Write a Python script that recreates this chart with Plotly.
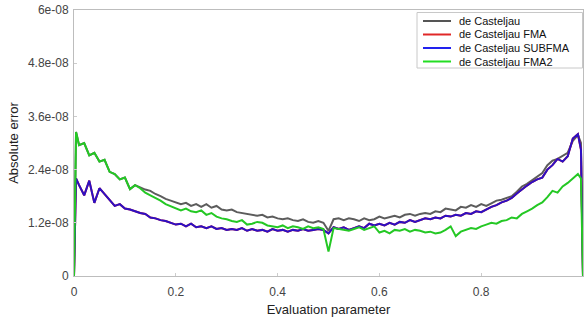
import plotly.graph_objects as go

# Evaluation parameter grid
t = [0.0, 0.004] + [round(0.01 * k, 2) for k in range(1, 100)] + [0.996, 1.0]

# Absolute errors in units of 1e-8
casteljau = [0.0, 3.25,
    2.95, 3.00, 2.72, 2.78, 2.58, 2.62, 2.35, 2.30, 2.18, 2.22,
    1.96, 2.05, 2.00, 1.95, 1.92, 1.85, 1.80, 1.74, 1.70, 1.66,
    1.62, 1.65, 1.58, 1.62, 1.56, 1.62, 1.54, 1.58, 1.50, 1.48,
    1.50, 1.44, 1.42, 1.40, 1.38, 1.36, 1.38, 1.32, 1.34, 1.30,
    1.28, 1.30, 1.26, 1.24, 1.28, 1.22, 1.20, 1.24, 1.20, 1.02,
    1.28, 1.30, 1.26, 1.30, 1.28, 1.24, 1.30, 1.26, 1.28, 1.34,
    1.30, 1.33, 1.36, 1.32, 1.38, 1.40, 1.36, 1.40, 1.42, 1.40,
    1.46, 1.44, 1.52, 1.50, 1.48, 1.56, 1.54, 1.60, 1.56, 1.62,
    1.58, 1.64, 1.70, 1.72, 1.76, 1.80, 1.90, 2.02, 2.08, 2.16,
    2.26, 2.32, 2.50, 2.60, 2.64, 2.72, 2.78, 3.05, 3.18,
    3.00, 0.0]

casteljau_subfma = [0.0, 2.20,
    2.05, 1.82, 2.15, 1.65, 1.98, 1.85, 1.72, 1.58, 1.62, 1.52,
    1.50, 1.46, 1.42, 1.40, 1.32, 1.30, 1.26, 1.24, 1.20, 1.16,
    1.18, 1.12, 1.18, 1.10, 1.12, 1.08, 1.12, 1.06, 1.08, 1.04,
    1.06, 1.04, 1.08, 1.02, 1.06, 1.02, 1.04, 1.00, 1.06, 1.02,
    1.04, 1.00, 1.04, 1.02, 1.06, 1.02, 1.04, 1.06, 1.04, 0.96,
    1.10, 1.06, 1.10, 1.04, 1.08, 1.12, 1.08, 1.18, 1.14, 1.18,
    1.14, 1.20, 1.16, 1.22, 1.20, 1.26, 1.22, 1.26, 1.30, 1.28,
    1.32, 1.30, 1.36, 1.34, 1.38, 1.36, 1.42, 1.40, 1.46, 1.44,
    1.50, 1.56, 1.60, 1.66, 1.70, 1.76, 1.86, 1.96, 2.04, 2.12,
    2.18, 2.22, 2.40, 2.50, 2.64, 2.58, 2.70, 3.10, 3.20,
    2.85, 0.0]

# FMA variant is hidden under the SUBFMA curve
casteljau_fma = list(casteljau_subfma)

casteljau_fma2 = [0.0, 3.25,
    2.95, 3.00, 2.72, 2.78, 2.58, 2.62, 2.35, 2.30, 2.18, 2.22,
    1.96, 2.05, 1.98, 1.88, 1.82, 1.76, 1.70, 1.62, 1.57, 1.52,
    1.48, 1.52, 1.46, 1.44, 1.48, 1.38, 1.42, 1.34, 1.30, 1.28,
    1.24, 1.22, 1.26, 1.16, 1.18, 1.22, 1.20, 1.14, 1.12, 1.10,
    1.14, 1.08, 1.12, 1.10, 1.06, 1.12, 1.08, 1.10, 1.06, 0.55,
    1.08, 1.06, 1.04, 1.02, 1.06, 1.10, 1.04, 1.08, 1.12, 0.98,
    1.02, 0.96, 1.04, 1.02, 1.06, 1.00, 1.04, 1.02, 0.98, 1.00,
    0.96, 0.98, 1.04, 1.12, 0.90, 1.00, 1.04, 1.08, 1.06, 1.12,
    1.16, 1.20, 1.18, 1.24, 1.26, 1.32, 1.30, 1.40, 1.46, 1.52,
    1.60, 1.66, 1.78, 1.92, 1.88, 2.02, 2.10, 2.20, 2.30,
    2.20, 0.0]

series_names = ["de Casteljau", "de Casteljau FMA", "de Casteljau SUBFMA", "de Casteljau FMA2"]
series_values = [casteljau, casteljau_fma, casteljau_subfma, casteljau_fma2]
series_colors = ["#5c5c5c", "#dd2020", "#2c10c4", "#24c824"]
legend_colors = ["#555555", "#e02828", "#2222ee", "#22dd22"]

y_tickvals = [0, 1.2e-8, 2.4e-8, 3.6e-8, 4.8e-8, 6e-8]
y_ticktext = ["0", "1.2e-08", "2.4e-08", "3.6e-08", "4.8e-08", "6e-08"]
x_tickvals = [0, 0.2, 0.4, 0.6, 0.8, 1]
x_ticktext = ["0", "0.2", "0.4", "0.6", "0.8", "1"]

FONT = "Liberation Sans, Arial, sans-serif"

fig = go.Figure()
for name, vals, col in zip(series_names, series_values, series_colors):
    fig.add_trace(go.Scatter(
        x=t, y=[v * 1e-8 for v in vals], mode="lines", name=name,
        line=dict(color=col, width=2), showlegend=False,
    ))

# Compact legend drawn with shapes/annotations (pixel -> paper conversion)
PL, PR, PT, PB = 74, 583, 10, 276
def px_x(px):
    return (px - PL) / (PR - PL)
def px_y(py):
    return (PB - py) / (PB - PT)

shapes = [dict(type="rect", xref="paper", yref="paper",
               x0=px_x(417), x1=px_x(582.5), y0=px_y(68), y1=px_y(12.5),
               line=dict(color="#c8c8c8", width=1), fillcolor="white", layer="above")]
annotations = []
row_y = [21, 34.5, 48, 61.5]
for name, col, ry in zip(series_names, legend_colors, row_y):
    shapes.append(dict(type="line", xref="paper", yref="paper",
                       x0=px_x(423), x1=px_x(451), y0=px_y(ry), y1=px_y(ry),
                       line=dict(color=col, width=2), layer="above"))
    annotations.append(dict(xref="paper", yref="paper", x=px_x(457), y=px_y(ry),
                            xanchor="left", yanchor="middle", showarrow=False,
                            text=name, font=dict(family=FONT, size=11, color="#111111")))

axis_common = dict(
    showgrid=False, zeroline=False, showline=True, linecolor="#bdbdbd",
    linewidth=1, mirror=True, ticks="inside", ticklen=3, tickcolor="#cccccc",
    automargin=False,
    tickfont=dict(family=FONT, size=12, color="#444444"),
)

fig.update_layout(
    width=584, height=320,
    margin=dict(l=74, r=1, t=10, b=44),
    paper_bgcolor="white", plot_bgcolor="white",
    font=dict(family=FONT, size=12, color="#222222"),
    showlegend=False,
    shapes=shapes, annotations=annotations,
    xaxis=dict(range=[0, 1], tickvals=x_tickvals, ticktext=x_ticktext,
               ticklabelstandoff=5,
               title=dict(text="Evaluation parameter", standoff=6,
                          font=dict(size=13, color="#222222")),
               **axis_common),
    yaxis=dict(range=[0, 6e-8], tickvals=y_tickvals, ticktext=y_ticktext,
               ticklabelstandoff=2,
               title=dict(text="Absolute error", standoff=6,
                          font=dict(size=13, color="#222222")),
               **axis_common),
)

fig.write_html("out.html", config={"displayModeBar": False},
               post_script="document.body.style.margin='0';")
